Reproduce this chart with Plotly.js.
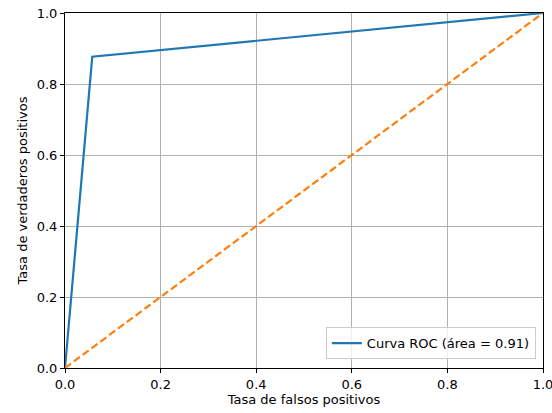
<!DOCTYPE html>
<html><head><meta charset="utf-8">
<script src="https://cdn.plot.ly/plotly-3.0.1.min.js"></script>
<style>html,body{margin:0;padding:0;background:#fff}</style>
</head><body><div id="chart" style="width:552px;height:413px"></div>
<script>
const fpr = [0.0, 0.057, 1.0];
const tpr = [0.0, 0.877, 1.0];
const diagX = [0, 1];
const diagY = [0, 1];
const rocLabel = 'Curva ROC (área = 0.91)';
const xTitle = 'Tasa de falsos positivos';
const yTitle = 'Tasa de verdaderos positivos';
const tickVals = [0, 0.2, 0.4, 0.6, 0.8, 1.0];

const font = {family: 'DejaVu Sans, sans-serif', size: 13, color: '#000'};
const axisBase = {
  range: [0, 1], tickvals: tickVals, tickformat: '.1f',
  showline: true, mirror: true, linecolor: '#000', linewidth: 1,
  ticks: 'outside', ticklen: 4, tickcolor: '#000', tickwidth: 1,
  showgrid: true, gridcolor: '#b0b0b0', gridwidth: 1,
  zeroline: false, tickfont: font, ticklabeloverflow: 'allow'
};
Plotly.newPlot('chart', [
  {x: fpr, y: tpr, mode: 'lines', name: rocLabel,
   line: {color: '#1f77b4', width: 2.2}},
  {x: diagX, y: diagY, mode: 'lines', showlegend: false,
   line: {color: '#ff7f0e', width: 2.2, dash: '7.5px,3.5px'}}
], {
  width: 552, height: 413,
  margin: {l: 65, r: 9, t: 13, b: 45},
  paper_bgcolor: '#fff', plot_bgcolor: '#fff',
  font: font,
  xaxis: Object.assign({}, axisBase, {title: {text: xTitle, font: font, standoff: 4}}),
  yaxis: Object.assign({}, axisBase, {title: {text: yTitle, font: font, standoff: 6}}),
  legend: {x: 0.985, y: 0.025, xanchor: 'right', yanchor: 'bottom',
    bgcolor: 'rgba(255,255,255,0.8)', bordercolor: '#cccccc', borderwidth: 1,
    font: font, itemwidth: 30},
  showlegend: true
}, {displayModeBar: false, staticPlot: true});
</script></body></html>
